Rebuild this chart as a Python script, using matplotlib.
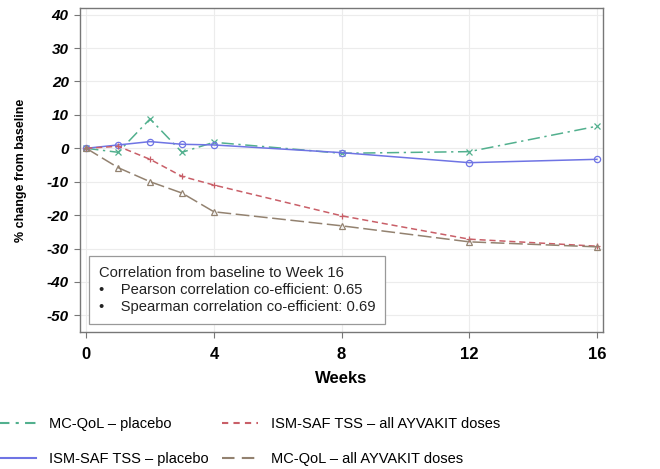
import matplotlib
matplotlib.use("Agg")
import matplotlib.pyplot as plt
from matplotlib.lines import Line2D

plt.rcParams['font.family'] = ['Liberation Sans', 'DejaVu Sans']

weeks = [0, 1, 2, 3, 4, 8, 12, 16]
mcqol_placebo = [0, -1.2, 8.8, -1.2, 1.8, -1.5, -1.0, 6.6]
ismsaf_placebo = [0, 1.0, 2.0, 1.2, 1.0, -1.3, -4.3, -3.3]
ismsaf_ayvakit = [0, 0.6, -3.3, -8.4, -11.0, -20.2, -27.2, -29.3]
mcqol_ayvakit = [0, -5.8, -10.0, -13.4, -19.0, -23.2, -28.0, -29.5]

x_ticks = [0, 4, 8, 12, 16]
y_ticks = [40, 30, 20, 10, 0, -10, -20, -30, -40, -50]

green = '#52b08e'
blue = '#6f74e4'
red = '#c95f68'
brown = '#938270'

fig = plt.figure(figsize=(6.6, 4.69), dpi=100)
ax = fig.add_axes([0.121, 0.292, 0.793, 0.691])

ax.plot(weeks, mcqol_placebo, color=green, linestyle=(0, (8, 3, 1.5, 3)), lw=1.1,
        marker='x', ms=4.5, mew=0.9)
ax.plot(weeks, ismsaf_placebo, color=blue, linestyle='-', lw=1.1,
        marker='o', ms=4.5, mfc='none', mew=0.9)
ax.plot(weeks, ismsaf_ayvakit, color=red, linestyle=(0, (4, 2.5)), lw=1.1,
        marker='+', ms=5, mew=0.9)
ax.plot(weeks, mcqol_ayvakit, color=brown, linestyle=(0, (9, 3)), lw=1.1,
        marker='^', ms=4.5, mfc='none', mew=0.9)

ax.set_xlim(-0.2, 16.2)
ax.set_ylim(-55, 42)
ax.set_xticks(x_ticks)
ax.set_yticks(y_ticks)
ax.set_xticklabels([str(t) for t in x_ticks], fontsize=12, fontweight='bold')
ax.set_yticklabels([str(t) for t in y_ticks], fontsize=11, fontweight='bold', style='italic')
ax.tick_params(axis='both', direction='out', length=4, color='#777777', pad=4)
ax.tick_params(axis='x', pad=7)
ax.grid(True, color='#ececec', lw=0.8)
ax.set_axisbelow(True)
for sp in ax.spines.values():
    sp.set_color('#777777')
    sp.set_linewidth(1.0)

ax.set_xlabel('Weeks', fontsize=12, fontweight='bold', labelpad=6)
ax.set_ylabel('% change from baseline', fontsize=9, fontweight='bold', labelpad=14)

box_text = ("Correlation from baseline to Week 16\n"
            "\u2022    Pearson correlation co-efficient: 0.65\n"
            "\u2022    Spearman correlation co-efficient: 0.69")
ax.text(0.036, 0.055, box_text, transform=ax.transAxes, fontsize=10.6,
        va='bottom', ha='left', linespacing=1.3, color='#222222',
        bbox=dict(boxstyle='square,pad=0.65', fc='white', ec='#999999', lw=0.9))

handles = [
    Line2D([], [], color=green, linestyle=(0, (5, 3, 1.5, 3)), lw=1.5),
    Line2D([], [], color=blue, linestyle='-', lw=1.5),
    Line2D([], [], color=red, linestyle=(0, (3, 2.5)), lw=1.5),
    Line2D([], [], color=brown, linestyle=(0, (6, 3.5)), lw=1.5),
]
labels = ['MC-QoL \u2013 placebo', 'ISM-SAF TSS \u2013 placebo',
          'ISM-SAF TSS \u2013 all AYVAKIT doses', 'MC-QoL \u2013 all AYVAKIT doses']
fig.legend(handles, labels, ncol=2, loc='lower left', bbox_to_anchor=(-0.021, -0.022),
           frameon=False, fontsize=10.5, handlelength=2.5, handletextpad=0.9,
           columnspacing=0.9, labelspacing=1.45)

fig.savefig('out.png', dpi=100)
